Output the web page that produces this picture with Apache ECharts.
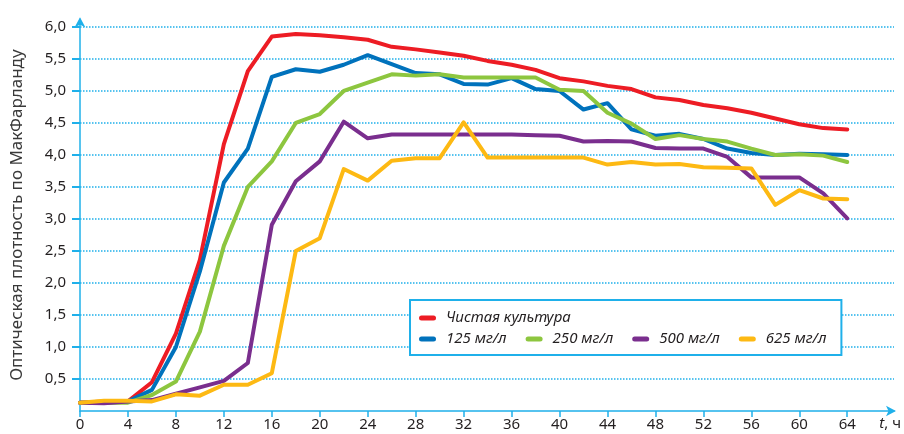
<!DOCTYPE html>
<html>
<head>
<meta charset="utf-8">
<script src="https://cdn.jsdelivr.net/npm/echarts@6/dist/echarts.min.js"></script>
<style>
  html, body { margin: 0; padding: 0; background: #fff; }
  #chart { width: 904px; height: 434px; }
</style>
</head>
<body>
<div id="chart"></div>
<script>
// ---- data ----
const hours = [0, 2, 4, 6, 8, 10, 12, 14, 16, 18, 20, 22, 24, 26, 28, 30, 32, 34, 36, 38, 40, 42, 44, 46, 48, 50, 52, 54, 56, 58, 60, 62, 64];
const seriesNames = ['Чистая культура', '125 мг/л', '250 мг/л', '500 мг/л', '625 мг/л'];
const pureCulture = [0.13, 0.15, 0.15, 0.45, 1.21, 2.36, 4.17, 5.31, 5.85, 5.89, 5.87, 5.84, 5.80, 5.69, 5.65, 5.60, 5.55, 5.47, 5.41, 5.33, 5.20, 5.15, 5.08, 5.03, 4.90, 4.86, 4.78, 4.73, 4.66, 4.57, 4.48, 4.42, 4.40];
const conc125 = [0.13, 0.13, 0.15, 0.33, 1.00, 2.18, 3.57, 4.10, 5.22, 5.34, 5.30, 5.41, 5.56, 5.42, 5.28, 5.26, 5.11, 5.10, 5.20, 5.03, 5.00, 4.71, 4.81, 4.40, 4.30, 4.33, 4.25, 4.10, 4.03, 4.00, 4.02, 4.01, 4.00];
const conc250 = [0.13, 0.13, 0.13, 0.25, 0.46, 1.24, 2.58, 3.50, 3.90, 4.50, 4.64, 5.00, 5.13, 5.26, 5.24, 5.26, 5.21, 5.21, 5.21, 5.21, 5.02, 5.00, 4.66, 4.49, 4.25, 4.31, 4.25, 4.21, 4.10, 4.00, 4.01, 3.99, 3.89];
const conc500 = [0.13, 0.12, 0.15, 0.17, 0.27, 0.37, 0.47, 0.75, 2.91, 3.59, 3.90, 4.52, 4.26, 4.32, 4.32, 4.32, 4.32, 4.32, 4.32, 4.31, 4.30, 4.21, 4.22, 4.21, 4.11, 4.10, 4.10, 3.97, 3.65, 3.65, 3.65, 3.40, 3.01];
const conc625 = [0.13, 0.16, 0.16, 0.15, 0.26, 0.24, 0.41, 0.41, 0.59, 2.50, 2.70, 3.78, 3.60, 3.91, 3.95, 3.95, 4.51, 3.96, 3.96, 3.96, 3.96, 3.96, 3.85, 3.89, 3.85, 3.86, 3.81, 3.80, 3.79, 3.22, 3.45, 3.32, 3.31];
const xTickValues = [0, 4, 8, 12, 16, 20, 24, 28, 32, 36, 40, 44, 48, 52, 56, 60, 64];
const yTickValues = [0.5, 1.0, 1.5, 2.0, 2.5, 3.0, 3.5, 4.0, 4.5, 5.0, 5.5, 6.0];
const yAxisTitle = 'Оптическая плотность по МакФарланду';

// ---- styling ----
const colors = ['#ed1c24', '#0072bc', '#8dc63f', '#7a2e8e', '#fdb913'];
const axisBlue = '#1fb0ea';
const textColor = '#231f20';
const fontFamily = '"Noto Sans", "Open Sans", sans-serif';

const allValues = [pureCulture, conc125, conc250, conc500, conc625];

const chart = echarts.init(document.getElementById('chart'), null, { renderer: 'canvas' });

const lineIcon = 'path://M2.5,0 H14.5 A2.5,2.5 0 0 1 14.5,5 H2.5 A2.5,2.5 0 0 1 2.5,0 Z';

chart.setOption({
  animation: false,
  backgroundColor: '#ffffff',
  textStyle: { fontFamily: fontFamily },
  grid: { left: 80, right: 8, top: 19.3, bottom: 23, containLabel: false },
  legend: {
    left: 410,
    top: 300,
    orient: 'horizontal',
    data: [seriesNames[0], '', seriesNames[1], seriesNames[2], seriesNames[3], seriesNames[4]],
    icon: lineIcon,
    itemWidth: 17,
    itemHeight: 14,
    itemGap: 5,
    padding: [10, 1, 8, 9],
    backgroundColor: '#ffffff',
    borderColor: axisBlue,
    borderWidth: 2,
    borderRadius: 0,
    textStyle: {
      fontFamily: fontFamily,
      fontStyle: 'italic',
      fontSize: 15,
      color: textColor,
      lineHeight: 16,
      padding: [0, 14, 0, 5]
    }
  },
  xAxis: {
    type: 'value',
    min: 0,
    max: 67.9,
    name: '{i|t}, ч',
    nameLocation: 'end',
    nameGap: 7,
    nameTextStyle: {
      color: textColor,
      fontSize: 15,
      fontFamily: fontFamily,
      align: 'right',
      verticalAlign: 'top',
      padding: [5, 0, 0, 0],
      rich: { i: { fontStyle: 'italic', fontSize: 15, color: textColor, fontFamily: fontFamily } }
    },
    axisLine: {
      show: true,
      onZero: false,
      symbol: ['none', 'arrow'],
      symbolSize: [8, 10],
      symbolOffset: [0, 2],
      lineStyle: { color: axisBlue, width: 1.5 }
    },
    axisTick: {
      show: true,
      inside: false,
      length: 6,
      customValues: xTickValues,
      lineStyle: { color: axisBlue, width: 1.5 }
    },
    axisLabel: {
      customValues: xTickValues,
      margin: 6,
      color: textColor,
      fontSize: 15,
      fontFamily: fontFamily
    },
    splitLine: { show: false }
  },
  yAxis: {
    type: 'value',
    min: 0,
    max: 6.12,
    name: yAxisTitle,
    nameLocation: 'middle',
    nameGap: 54,
    nameTextStyle: { color: '#3a3a3a', fontSize: 17, fontFamily: fontFamily },
    axisLine: {
      show: true,
      onZero: false,
      symbol: ['none', 'arrow'],
      symbolSize: [8, 10],
      symbolOffset: [0, 2],
      lineStyle: { color: axisBlue, width: 1.5 }
    },
    axisTick: {
      show: true,
      inside: false,
      length: 8,
      customValues: yTickValues,
      lineStyle: { color: axisBlue, width: 2 }
    },
    axisLabel: {
      customValues: yTickValues,
      margin: 14,
      color: textColor,
      fontSize: 15,
      fontFamily: fontFamily,
      formatter: function (v) { return v.toFixed(1).replace('.', ','); }
    },
    splitLine: {
      show: true,
      lineStyle: { color: axisBlue, width: 1.5, type: [1.5, 1.5] }
    }
  },
  series: seriesNames.map(function (name, i) {
    return {
      name: name,
      type: 'line',
      data: hours.map(function (h, j) { return [h, allValues[i][j]]; }),
      showSymbol: false,
      symbol: 'none',
      color: colors[i],
      lineStyle: { color: colors[i], width: 4, join: 'round', cap: 'round' },
      itemStyle: { color: colors[i] },
      z: 2 + i
    };
  })
});
</script>
</body>
</html>
